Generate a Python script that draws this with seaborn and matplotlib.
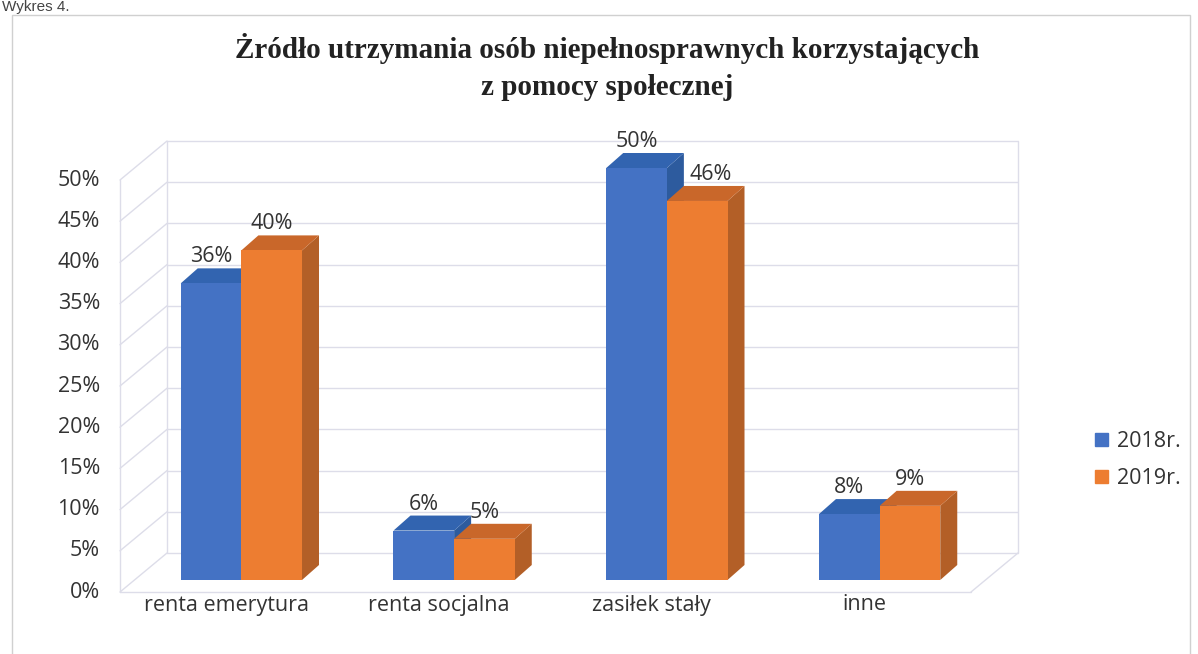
import numpy as np
import pandas as pd
import seaborn as sns
import matplotlib.pyplot as plt
from matplotlib.patches import Polygon, Patch, Rectangle

# dane
kategorie = ['renta emerytura', 'renta socjalna', 'zasiłek stały', 'inne']
lata = ['2018r.', '2019r.']
udzial_2018 = [0.36, 0.06, 0.50, 0.08]
udzial_2019 = [0.40, 0.05, 0.46, 0.09]
yticks = np.arange(0, 0.501, 0.05)
ytick_labels = [f'{int(round(t * 100))}%' for t in yticks]
tytul = 'Żródło utrzymania osób niepełnosprawnych korzystających\nz pomocy społecznej'

kolory = {'2018r.': '#4472C4', '2019r.': '#ED7D31'}
boki = ['#2D5B9E', '#B35F27']
gory = ['#3264B0', '#C9672A']
siatka = '#dddde9'
fs = 15.5

sns.set_style('white')
plt.rcParams['font.family'] = ['Open Sans', 'DejaVu Sans']

df = pd.DataFrame({
    'kategoria': kategorie * 2,
    'rok': [lata[0]] * 4 + [lata[1]] * 4,
    'udzial': udzial_2018 + udzial_2019,
})

W, H = 1198, 654
fig = plt.figure(figsize=(W / 100, H / 100), dpi=100)
ax_l, ax_b, ax_w, ax_h = 135, 74, 851, 412
ax = fig.add_axes([ax_l / W, ax_b / H, ax_w / W, ax_h / H])

sns.barplot(data=df, x='kategoria', y='udzial', hue='rok', palette=kolory,
            width=0.57, saturation=1, linewidth=0, legend=False, ax=ax)
ax.set_xlim(-0.5, 3.5)
ax.set_ylim(0, 0.5)

# przeliczenie pikseli na jednostki danych
sx = 4 / ax_w
sy = 0.5 / ax_h
fx, fy = -15 * sx, -12 * sy   # przednia płaszczyzna
bx, by = 32 * sx, 27 * sy     # tylna ściana
dx, dy = 17 * sx, 15 * sy     # głębokość słupka

# ściany i siatka
kw = dict(color=siatka, lw=1, clip_on=False, zorder=0)
ax.hlines(yticks + by, -0.5 + bx, 3.5 + bx, **kw)
for t in yticks:
    ax.plot([-0.5 + fx, -0.5 + bx], [t + fy, t + by], **kw)
ax.plot([-0.5 + fx, -0.5 + fx], [fy, 0.5 + fy], **kw)
ax.plot([-0.5 + bx, -0.5 + bx], [by, 0.5 + by], **kw)
ax.plot([3.5 + bx, 3.5 + bx], [by, 0.5 + by], **kw)
ax.plot([-0.5 + fx, 3.5 + fx], [fy, fy], **kw)
ax.plot([3.5 + fx, 3.5 + bx], [fy, by], **kw)

# efekt 3D słupków
przes_etykiet = {(1, 2): 13 * sx}
for i, cont in enumerate(ax.containers):
    for j, bar in enumerate(cont):
        x0, w, h = bar.get_x(), bar.get_width(), bar.get_height()
        bar.set_zorder(2 * i + 2)
        bok = Polygon([(x0 + w, 0), (x0 + w + dx, dy), (x0 + w + dx, h + dy), (x0 + w, h)],
                      closed=True, fc=boki[i], ec='none', zorder=2 * i + 1, clip_on=False)
        gora = Polygon([(x0, h), (x0 + dx, h + dy), (x0 + w + dx, h + dy), (x0 + w, h)],
                       closed=True, fc=gory[i], ec='none', zorder=2 * i + 1, clip_on=False)
        ax.add_patch(bok)
        ax.add_patch(gora)
        ax.text(x0 + w / 2 + przes_etykiet.get((i, j), 0), h + dy + 1 * sy, f'{h:.0%}',
                ha='center', va='bottom', fontsize=fs, color='#333333', zorder=10)

# opisy osi na przedniej płaszczyźnie
for t, lab in zip(yticks, ytick_labels):
    ax.text(-0.5 - 35 * sx, t + fy, lab, ha='right', va='center', fontsize=fs, color='#333333')
for k, lab in enumerate(kategorie):
    ax.text(k + fx, -25 * sy, lab, ha='center', va='center', fontsize=fs, color='#333333')

ax.set_xticks([])
ax.set_yticks([])
ax.set_xlabel('')
ax.set_ylabel('')
sns.despine(ax=ax, left=True, bottom=True)

fig.text(607 / W, 1 - 67 / H, tytul, ha='center', va='center', multialignment='center',
         family='Liberation Serif', weight='bold', fontsize=21, color='#222222', linespacing=1.45)
fig.text(0.002, 1.0, 'Wykres 4.', ha='left', va='top', family='Liberation Sans',
         fontsize=11, color='#444444')
fig.add_artist(Rectangle((12 / W, -0.01), (1190 - 12) / W, (H - 15) / H + 0.01,
                         transform=fig.transFigure, fill=False, ec='#d0d0d0', lw=1))

uchwyty = [Patch(color=kolory[r]) for r in lata]
fig.legend(uchwyty, lata, loc='center left', bbox_to_anchor=(1076 / W, 1 - 460 / H),
           frameon=False, fontsize=fs, handlelength=0.6, handleheight=0.6,
           handletextpad=0.4, labelspacing=0.75, labelcolor='#333333')

fig.savefig('out.png', dpi=100)
